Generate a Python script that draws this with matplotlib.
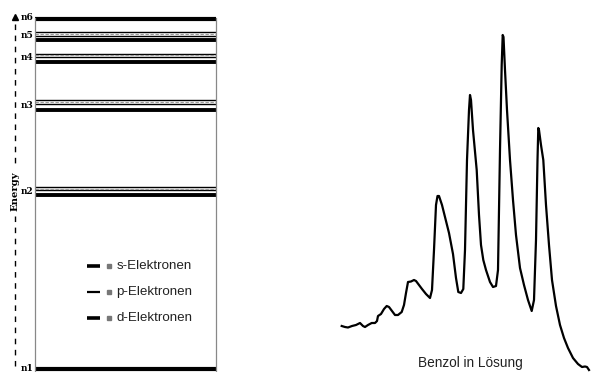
import matplotlib.pyplot as plt
import numpy as np

# Energy levels (arbitrary units, n1 at bottom)
shells = ['n1', 'n2', 'n3', 'n4', 'n5', 'n6']
s_levels = [1.5, 175.5, 260, 308, 330, 351.5]
p_levels = [None, 180, 266.5, 313, 334.5, None]
d_levels = [None, 183, 270.5, 316.5, 338, None]
label_pos = [1.5, 178, 264, 313, 335, 353]

legend_labels = ['s-Elektronen', 'p-Elektronen', 'd-Elektronen']
legend_widths = [2.6, 1.6, 2.6]

# Absorption spectrum of benzene (arbitrary units)
spec_x = [1.7, 5, 8, 12, 16, 20, 23, 25, 28, 31.7, 35, 37, 38, 41, 44, 46.7, 49, 52,
          55, 58, 61.7, 64, 66, 68, 71, 74, 76, 79, 82, 86, 90, 92, 94, 96, 97.5, 99,
          102, 105, 109, 113, 116, 118.3, 121, 123.3, 125, 127, 129, 130, 131, 133,
          136.7, 139, 141, 143.3, 146, 150, 153, 156, 158, 160, 161.7, 162.7, 163.5,
          165, 167, 170, 173, 176, 180, 184, 188, 191.7, 194, 196, 197.5, 198.3, 199,
          201, 203.3, 206, 209, 212, 216, 220, 224, 228, 233, 238, 242, 245, 247, 249]
spec_y = [46, 45, 44.5, 46, 47, 49, 46, 45, 47, 49, 49, 51, 56, 58, 63, 66, 65, 61,
          57, 57, 60, 67, 79, 90, 90.5, 92, 91, 87, 83, 78, 74, 82, 122, 167, 176, 176,
          167, 155, 139, 118, 94, 80, 79, 83, 122, 212, 262, 277, 272, 242, 202, 157,
          127, 112, 102, 90, 85, 86, 102, 222, 307, 337, 335, 302, 262, 212, 172, 137,
          104, 87, 72, 61, 72, 132, 212, 244, 242, 227, 212, 167, 127, 92, 66, 47, 34,
          24, 14, 8, 5, 5.5, 5, 2]

fig = plt.figure(figsize=(6.08, 3.72), dpi=100)

# --- energy level diagram ---
ax = fig.add_axes([35 / 608, 0, 181 / 608, 1])
ax.set_xlim(0, 1)
ax.set_ylim(-2, 370)
for i, n in enumerate(shells):
    lw = 3.0 if i in (0, 5) else 2.8
    ax.axhline(s_levels[i], color='black', lw=lw)
    if p_levels[i] is not None:
        ax.axhline(p_levels[i], color='black', lw=1.0)
        ax.axhline(d_levels[i], color='black', lw=1.0)
        ax.axhline((p_levels[i] + d_levels[i]) / 2, color='#999999', lw=0.8,
                   dashes=(3, 1.5))
    ax.text(-0.008, label_pos[i], n, ha='right', va='center', fontsize=6.5,
            family='DejaVu Serif', fontweight='bold')

for side in ('top', 'bottom'):
    ax.spines[side].set_visible(False)
for side in ('left', 'right'):
    ax.spines[side].set_color('#888888')
    ax.spines[side].set_linewidth(0.9)
    ax.spines[side].set_bounds(-2, 352)
ax.set_xticks([])
ax.set_yticks([])
ax.patch.set_alpha(0)

# legend entries
for i, (lab, lw) in enumerate(zip(legend_labels, legend_widths)):
    yy = 104 - i * 26
    ax.plot([0.29, 0.36], [yy, yy], color='black', lw=lw, solid_capstyle='butt')
    ax.plot([0.41], [yy], marker='s', ms=2.2, color='#777777')
    ax.text(0.45, yy, lab, ha='left', va='center', fontsize=9.6,
            family='Liberation Sans', color='#222222')

# energy axis: dashed arrow with label
axe = fig.add_axes([0, 0, 35 / 608, 1])
axe.set_xlim(0, 35)
axe.set_ylim(372, 0)
axe.axis('off')
axe.plot([15, 15], [24, 166], color='black', lw=1.0, dashes=(4, 4))
axe.plot([15, 15], [216, 370], color='black', lw=1.0, dashes=(4, 4))
axe.plot([15], [17], marker='^', ms=4.5, color='black')
axe.text(15, 191, 'Energy', rotation=90, ha='center', va='center', fontsize=7.2,
         family='DejaVu Serif', fontweight='bold')

# --- spectrum ---
axs = fig.add_axes([340 / 608, 0, 268 / 608, 1])
axs.set_xlim(0, 268)
axs.set_ylim(0, 372)
axs.axis('off')
axs.plot(spec_x, spec_y, color='black', lw=1.6, solid_joinstyle='round')
axs.text(130, 9, 'Benzol in Lösung', ha='center', va='center', fontsize=9.8,
         family='Liberation Sans', color='#222222')

fig.savefig('out.png', dpi=100)
